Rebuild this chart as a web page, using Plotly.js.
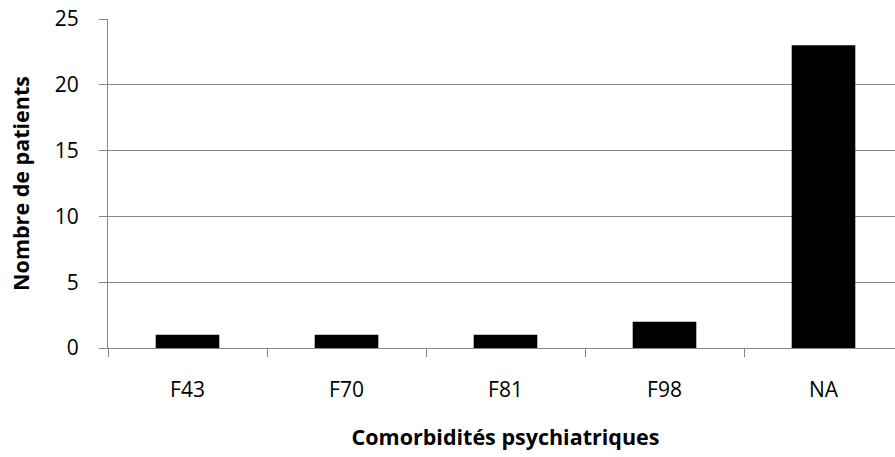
<!DOCTYPE html>
<html><head><meta charset="utf-8">
<script src="https://cdn.plot.ly/plotly-3.0.1.min.js"></script>
<style>html,body{margin:0;padding:0;overflow:hidden;background:#fff;width:895px;height:457px}#c{width:903px;height:457px}</style>
</head><body><div id="c"></div>
<script>
const categories = ["F43","F70","F81","F98","NA"];
const patients = [1,1,1,2,23];
const yTicks = [0,5,10,15,20,25];

const font = "Open Sans, Liberation Sans, sans-serif";
Plotly.newPlot("c", [{
  type: "bar", x: categories, y: patients,
  marker: {color: "#000000"}, hoverinfo: "none"
}], {
  width: 903, height: 457,
  margin: {l: 108, r: 0, t: 19, b: 109},
  bargap: 0.6,
  paper_bgcolor: "#fff", plot_bgcolor: "#fff",
  font: {family: font, size: 21, color: "#000"},
  showlegend: false,
  xaxis: {
    type: "category",
    showline: true, linecolor: "#868686", linewidth: 1,
    ticks: "outside", tickson: "boundaries", ticklen: 8, tickcolor: "#868686",
    showgrid: false, zeroline: false,
    ticklabelstandoff: 23,
    tickfont: {family: font, size: 21},
    title: {text: "<b>Comorbidités psychiatriques</b>", font: {family: font, size: 21.5}, standoff: 27}
  },
  yaxis: {
    range: [0, 25], tickvals: yTicks,
    showline: true, linecolor: "#868686", linewidth: 1,
    ticks: "outside", ticklen: 8, tickcolor: "#868686",
    showgrid: true, gridcolor: "#868686", gridwidth: 1, zeroline: false,
    ticklabelstandoff: 16,
    tickfont: {family: font, size: 21},
    title: {text: "<b>Nombre de patients</b>", font: {family: font, size: 21.5}, standoff: 19}
  }
}, {staticPlot: true});
</script></body></html>
